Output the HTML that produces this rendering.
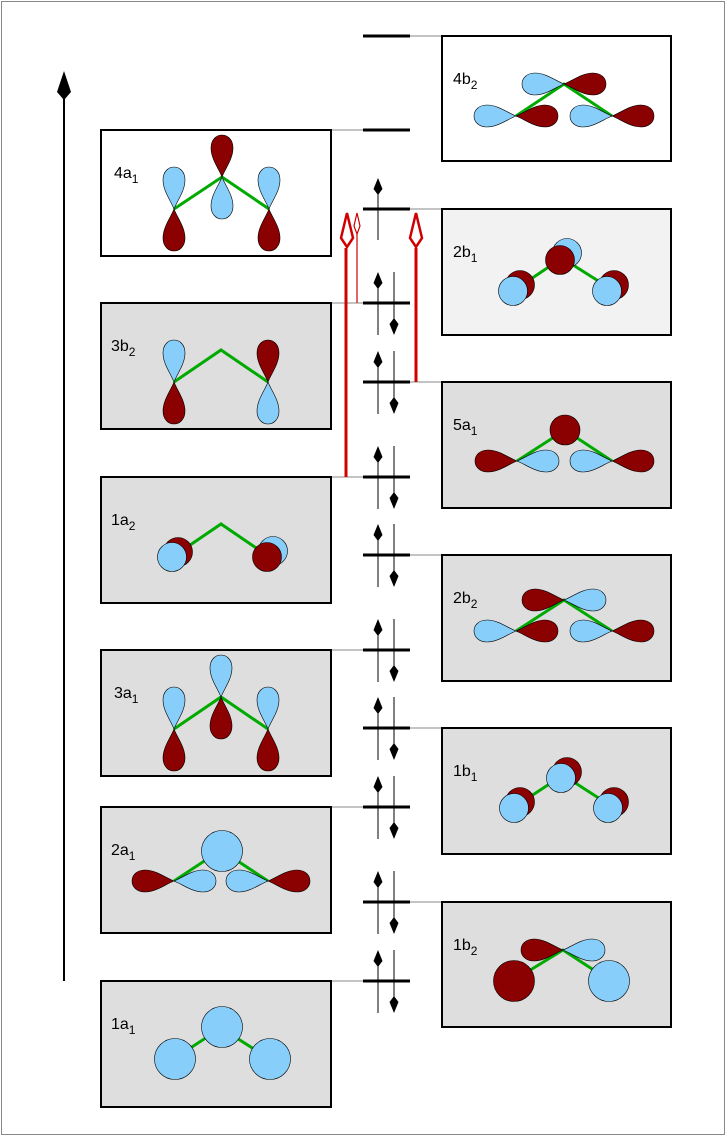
<!DOCTYPE html>
<html><head><meta charset="utf-8"><style>
html,body{margin:0;padding:0;background:#fff}
svg{display:block}
text{font-family:"Liberation Sans",sans-serif;font-size:16px;fill:#000}
</style></head><body>
<svg width="726" height="1136" viewBox="0 0 726 1136" xmlns="http://www.w3.org/2000/svg">
<defs>
<path id="lb" d="M0,0 C-3,-8 -11,-18 -11,-29 C-11,-37 -6,-42 0,-42 C6,-42 11,-37 11,-29 C11,-18 3,-8 0,0Z" stroke="#000" stroke-width="0.6"/>
</defs>
<rect x="1.5" y="1.5" width="723" height="1133" fill="#fff" stroke="#888" stroke-width="1"/>

<line x1="64" y1="95" x2="64" y2="981" stroke="#000" stroke-width="2"/>
<path d="M64,71 L57,92 L64,100 L71,92Z" fill="#000"/>

<g stroke="#888" stroke-width="1">
<line x1="410" y1="36" x2="442" y2="36"/>
<line x1="331" y1="130" x2="363" y2="130"/>
<line x1="410" y1="209" x2="442" y2="209"/>
<line x1="331" y1="303" x2="363" y2="303"/>
<line x1="410" y1="382" x2="442" y2="382"/>
<line x1="331" y1="477" x2="363" y2="477"/>
<line x1="410" y1="555" x2="442" y2="555"/>
<line x1="331" y1="650" x2="363" y2="650"/>
<line x1="410" y1="728" x2="442" y2="728"/>
<line x1="331" y1="807" x2="363" y2="807"/>
<line x1="410" y1="902" x2="442" y2="902"/>
<line x1="331" y1="981" x2="363" y2="981"/>
</g>
<g stroke="#000" stroke-width="3">
<line x1="363" y1="36" x2="410" y2="36"/>
<line x1="363" y1="130" x2="410" y2="130"/>
<line x1="363" y1="209" x2="410" y2="209"/>
<line x1="363" y1="303" x2="410" y2="303"/>
<line x1="363" y1="382" x2="410" y2="382"/>
<line x1="363" y1="477" x2="410" y2="477"/>
<line x1="363" y1="555" x2="410" y2="555"/>
<line x1="363" y1="650" x2="410" y2="650"/>
<line x1="363" y1="728" x2="410" y2="728"/>
<line x1="363" y1="807" x2="410" y2="807"/>
<line x1="363" y1="902" x2="410" y2="902"/>
<line x1="363" y1="981" x2="410" y2="981"/>
</g>
<line x1="378" y1="180" x2="378" y2="240" stroke="#000" stroke-width="1"/>
<path d="M378,178 l-4.5,11 l4.5,6 l4.5,-6Z" fill="#000"/>
<g stroke="#000" stroke-width="1">
<line x1="378" y1="274" x2="378" y2="335"/><line x1="394" y1="272" x2="394" y2="333"/>
<line x1="378" y1="353" x2="378" y2="414"/><line x1="394" y1="351" x2="394" y2="412"/>
<line x1="378" y1="448" x2="378" y2="509"/><line x1="394" y1="446" x2="394" y2="507"/>
<line x1="378" y1="526" x2="378" y2="587"/><line x1="394" y1="524" x2="394" y2="585"/>
<line x1="378" y1="621" x2="378" y2="682"/><line x1="394" y1="619" x2="394" y2="680"/>
<line x1="378" y1="699" x2="378" y2="760"/><line x1="394" y1="697" x2="394" y2="758"/>
<line x1="378" y1="778" x2="378" y2="839"/><line x1="394" y1="776" x2="394" y2="837"/>
<line x1="378" y1="873" x2="378" y2="934"/><line x1="394" y1="871" x2="394" y2="932"/>
<line x1="378" y1="952" x2="378" y2="1013"/><line x1="394" y1="950" x2="394" y2="1011"/>
</g>
<g fill="#000">
<path d="M378,272 l-4.5,11 l4.5,6 l4.5,-6Z M394,335 l-4.5,-11 l4.5,-6 l4.5,6Z"/>
<path d="M378,351 l-4.5,11 l4.5,6 l4.5,-6Z M394,414 l-4.5,-11 l4.5,-6 l4.5,6Z"/>
<path d="M378,446 l-4.5,11 l4.5,6 l4.5,-6Z M394,509 l-4.5,-11 l4.5,-6 l4.5,6Z"/>
<path d="M378,524 l-4.5,11 l4.5,6 l4.5,-6Z M394,587 l-4.5,-11 l4.5,-6 l4.5,6Z"/>
<path d="M378,619 l-4.5,11 l4.5,6 l4.5,-6Z M394,682 l-4.5,-11 l4.5,-6 l4.5,6Z"/>
<path d="M378,697 l-4.5,11 l4.5,6 l4.5,-6Z M394,760 l-4.5,-11 l4.5,-6 l4.5,6Z"/>
<path d="M378,776 l-4.5,11 l4.5,6 l4.5,-6Z M394,839 l-4.5,-11 l4.5,-6 l4.5,6Z"/>
<path d="M378,871 l-4.5,11 l4.5,6 l4.5,-6Z M394,934 l-4.5,-11 l4.5,-6 l4.5,6Z"/>
<path d="M378,950 l-4.5,11 l4.5,6 l4.5,-6Z M394,1013 l-4.5,-11 l4.5,-6 l4.5,6Z"/>
</g>

<g stroke="#d00000" fill="#fff">
<line x1="346" y1="248" x2="346" y2="477" stroke-width="3"/>
<path d="M347,213 L341,238 L347,247 L353,238Z" stroke-width="2.5"/>
<line x1="357" y1="234" x2="357" y2="303" stroke-width="1.2"/>
<path d="M357,213 L354,226 L357,234 L360,226Z" stroke-width="1.2"/>
<line x1="416" y1="248" x2="416" y2="382" stroke-width="3"/>
<path d="M416,213 L410,238 L416,247 L422,238Z" stroke-width="2.5"/>
</g>

<g stroke="#000" stroke-width="2">
<rect x="101" y="130" width="230" height="126" fill="#fff"/>
<rect x="101" y="303" width="230" height="126" fill="#dedede"/>
<rect x="101" y="477" width="230" height="126" fill="#dedede"/>
<rect x="101" y="650" width="230" height="126" fill="#dedede"/>
<rect x="101" y="807" width="230" height="126" fill="#dedede"/>
<rect x="101" y="981" width="230" height="126" fill="#dedede"/>
<rect x="442" y="36" width="229" height="125" fill="#fff"/>
<rect x="442" y="209" width="229" height="126" fill="#f2f2f2"/>
<rect x="442" y="382" width="229" height="126" fill="#dedede"/>
<rect x="442" y="555" width="229" height="126" fill="#dedede"/>
<rect x="442" y="728" width="229" height="126" fill="#dedede"/>
<rect x="442" y="902" width="229" height="125" fill="#dedede"/>
</g>

<text x="114" y="178">4a<tspan font-size="12" dy="5">1</tspan></text>
<text x="111" y="351">3b<tspan font-size="12" dy="5">2</tspan></text>
<text x="111" y="525">1a<tspan font-size="12" dy="5">2</tspan></text>
<text x="114" y="698">3a<tspan font-size="12" dy="5">1</tspan></text>
<text x="111" y="855">2a<tspan font-size="12" dy="5">1</tspan></text>
<text x="111" y="1029">1a<tspan font-size="12" dy="5">1</tspan></text>
<text x="453" y="84">4b<tspan font-size="12" dy="5">2</tspan></text>
<text x="453" y="257">2b<tspan font-size="12" dy="5">1</tspan></text>
<text x="453" y="430">5a<tspan font-size="12" dy="5">1</tspan></text>
<text x="453" y="603">2b<tspan font-size="12" dy="5">2</tspan></text>
<text x="453" y="776">1b<tspan font-size="12" dy="5">1</tspan></text>
<text x="453" y="950">1b<tspan font-size="12" dy="5">2</tspan></text>

<g stroke="#00aa00" stroke-width="3" fill="none">
<polyline points="174,209 222,177 269,209"/>
<polyline points="174,382 221,350 268,382"/>
<polyline points="174,556 221,524 268,556"/>
<polyline points="174,729 221,697 268,729"/>
<polyline points="174,881 221,850 268,881"/>
<polyline points="175,1058 221,1028 268,1058"/>
<polyline points="516,116 564,84 612,116"/>
<polyline points="516,289 562,258 611,289"/>
<polyline points="517,461 565,430 612,461"/>
<polyline points="516,631 564,600 612,631"/>
<polyline points="516,806 563,775 611,806"/>
<polyline points="514,980 563,950 609,980"/>
</g>

<use href="#lb" transform="translate(222,177)" fill="#8b0000"/>
<use href="#lb" transform="translate(222,177) rotate(180)" fill="#87cefa"/>
<use href="#lb" transform="translate(174,209)" fill="#87cefa"/>
<use href="#lb" transform="translate(174,209) rotate(180)" fill="#8b0000"/>
<use href="#lb" transform="translate(269,209)" fill="#87cefa"/>
<use href="#lb" transform="translate(269,209) rotate(180)" fill="#8b0000"/>
<use href="#lb" transform="translate(174,382)" fill="#87cefa"/>
<use href="#lb" transform="translate(174,382) rotate(180)" fill="#8b0000"/>
<use href="#lb" transform="translate(268,382)" fill="#8b0000"/>
<use href="#lb" transform="translate(268,382) rotate(180)" fill="#87cefa"/>
<g stroke="#000" stroke-width="0.6">
<circle cx="178" cy="552" r="14.5" fill="#8b0000"/>
<circle cx="172" cy="557" r="14.5" fill="#87cefa"/>
<circle cx="273" cy="551" r="14.5" fill="#87cefa"/>
<circle cx="267" cy="557" r="14.5" fill="#8b0000"/>
</g>
<use href="#lb" transform="translate(221,697)" fill="#87cefa"/>
<use href="#lb" transform="translate(221,697) rotate(180)" fill="#8b0000"/>
<use href="#lb" transform="translate(174,729)" fill="#87cefa"/>
<use href="#lb" transform="translate(174,729) rotate(180)" fill="#8b0000"/>
<use href="#lb" transform="translate(268,729)" fill="#87cefa"/>
<use href="#lb" transform="translate(268,729) rotate(180)" fill="#8b0000"/>
<circle cx="222" cy="851" r="20.5" fill="#87cefa" stroke="#000" stroke-width="0.6"/>
<use href="#lb" transform="translate(174,881) rotate(-90)" fill="#8b0000"/>
<use href="#lb" transform="translate(174,881) rotate(90)" fill="#87cefa"/>
<use href="#lb" transform="translate(268,881) rotate(-90)" fill="#87cefa"/>
<use href="#lb" transform="translate(268,881) rotate(90)" fill="#8b0000"/>
<g stroke="#000" stroke-width="0.6" fill="#87cefa">
<circle cx="222" cy="1027" r="20.5"/>
<circle cx="175" cy="1059" r="20.5"/>
<circle cx="270" cy="1059" r="20.5"/>
</g>
<use href="#lb" transform="translate(564,84) rotate(-90)" fill="#87cefa"/>
<use href="#lb" transform="translate(564,84) rotate(90)" fill="#8b0000"/>
<use href="#lb" transform="translate(516,116) rotate(-90)" fill="#87cefa"/>
<use href="#lb" transform="translate(516,116) rotate(90)" fill="#8b0000"/>
<use href="#lb" transform="translate(612,116) rotate(-90)" fill="#87cefa"/>
<use href="#lb" transform="translate(612,116) rotate(90)" fill="#8b0000"/>
<g stroke="#000" stroke-width="0.6">
<circle cx="567" cy="253" r="14.5" fill="#87cefa"/>
<circle cx="560" cy="260" r="14.5" fill="#8b0000"/>
<circle cx="520" cy="285" r="14.5" fill="#8b0000"/>
<circle cx="513" cy="291" r="14.5" fill="#87cefa"/>
<circle cx="614" cy="285" r="14.5" fill="#8b0000"/>
<circle cx="607" cy="291" r="14.5" fill="#87cefa"/>
</g>
<circle cx="565" cy="430" r="15" fill="#8b0000" stroke="#000" stroke-width="0.6"/>
<use href="#lb" transform="translate(517,461) rotate(-90)" fill="#8b0000"/>
<use href="#lb" transform="translate(517,461) rotate(90)" fill="#87cefa"/>
<use href="#lb" transform="translate(612,461) rotate(-90)" fill="#87cefa"/>
<use href="#lb" transform="translate(612,461) rotate(90)" fill="#8b0000"/>
<use href="#lb" transform="translate(564,600) rotate(-90)" fill="#8b0000"/>
<use href="#lb" transform="translate(564,600) rotate(90)" fill="#87cefa"/>
<use href="#lb" transform="translate(516,631) rotate(-90)" fill="#87cefa"/>
<use href="#lb" transform="translate(516,631) rotate(90)" fill="#8b0000"/>
<use href="#lb" transform="translate(612,631) rotate(-90)" fill="#87cefa"/>
<use href="#lb" transform="translate(612,631) rotate(90)" fill="#8b0000"/>
<g stroke="#000" stroke-width="0.6">
<circle cx="567" cy="772" r="14.5" fill="#8b0000"/>
<circle cx="561" cy="778" r="14.5" fill="#87cefa"/>
<circle cx="520" cy="802" r="14.5" fill="#8b0000"/>
<circle cx="514" cy="808" r="14.5" fill="#87cefa"/>
<circle cx="614" cy="802" r="14.5" fill="#8b0000"/>
<circle cx="608" cy="808" r="14.5" fill="#87cefa"/>
</g>
<use href="#lb" transform="translate(563,950) rotate(-90)" fill="#8b0000"/>
<use href="#lb" transform="translate(563,950) rotate(90)" fill="#87cefa"/>
<circle cx="514" cy="981" r="20.5" fill="#8b0000" stroke="#000" stroke-width="0.6"/>
<circle cx="609" cy="981" r="20.5" fill="#87cefa" stroke="#000" stroke-width="0.6"/>
</svg>
</body></html>
